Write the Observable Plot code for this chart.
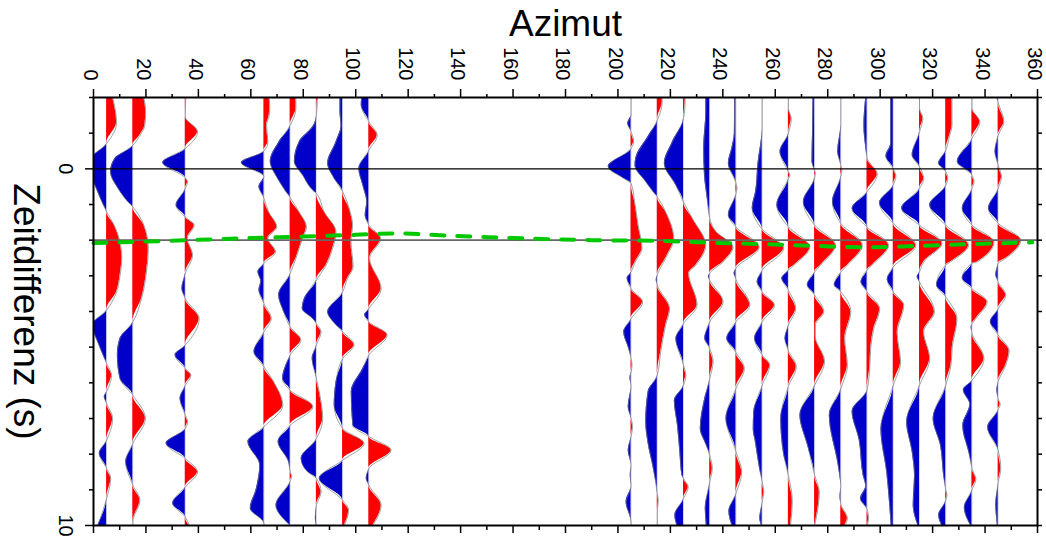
<!DOCTYPE html>
<html>
<head>
<meta charset="utf-8">
<script src="https://cdn.jsdelivr.net/npm/d3@7"></script>
<script src="https://cdn.jsdelivr.net/npm/@observablehq/plot@0.6"></script>
<style>
  html, body { margin: 0; padding: 0; background: #fff; }
  svg { display: block; }
</style>
</head>
<body>
<div id="chart"></div>
<script>
// ---- Data: azimuth of each trace and its wiggle [time (s), amplitude] samples ----
const traceAzimuths = [5, 15, 35, 65, 75, 85, 95, 105, 205, 215, 225, 235, 245, 255, 265, 275, 285, 295, 305, 315, 325, 335, 345];

const tr005 = [[-2,2.3],[-1.3,3.8],[-0.71,0],[-0.3,-5.5],[0.1,-5.8],[0.64,-3.4],[1.0,-1.3],[1.21,0],[1.58,2.9],[2.5,5.8],[3.0,5.1],[3.45,3.8],[3.96,0],[4.38,-5.5],[4.85,-3.4],[5.3,-0.9],[5.46,0],[5.79,1.9],[6.25,0],[6.39,-0.9],[6.58,0],[7.0,2.3],[7.61,0],[7.98,-2.8],[8.4,0],[8.68,1.6],[9.24,0],[10,-3.4]];
const tr015 = [[-2,4.2],[-1.6,4.9],[-1.22,4.6],[-0.94,2.7],[-0.66,0],[-0.29,-6.8],[0.08,-8.5],[0.55,-5.6],[0.93,-1.8],[1.07,0],[1.58,4.2],[2.23,5.9],[2.89,5.2],[3.64,3.3],[4.29,0],[4.76,-4.9],[5.22,-5.9],[5.88,-4.9],[6.35,0],[7.0,4.8],[7.7,0],[8.21,-2.7],[8.87,0],[9.29,2.7],[9.9,0],[10,0]];
const tr035 = [[-2,0.2],[-1.46,0],[-1.04,4.7],[-0.57,0],[-0.17,-8.6],[0.25,0],[0.36,0.9],[0.55,0],[1.02,-3.5],[1.35,0],[1.58,3.4],[1.95,0.8],[2.42,2.8],[2.93,0],[3.36,-1.3],[3.64,0],[4.2,5.3],[4.94,0],[5.22,-3.9],[5.6,0],[5.79,2.2],[6.07,0],[6.44,-2.0],[6.91,0],[7.09,0.9],[7.28,0],[7.7,-7.3],[8.12,0],[8.5,4.7],[8.92,0],[9.38,-4.8],[9.76,0],[10,1.5]];
const tr065 = [[-2,2.0],[-1.75,2.2],[-1.5,2.0],[-1.22,1.0],[-0.76,1.5],[-0.5,0],[-0.17,-8.6],[0.22,0],[0.5,-1.9],[0.83,0],[1.21,1.8],[1.63,4.9],[1.95,1.5],[2.33,4.4],[2.65,0],[2.89,-2.3],[3.15,-1.2],[3.4,-1.9],[3.78,0],[4.2,2.8],[4.57,0],[5.13,-3.8],[5.55,0],[5.97,3.7],[6.63,7.2],[7.23,0],[7.65,-6.1],[8.31,-1.6],[9.0,-3.0],[9.52,-5.2],[9.94,0],[10,0]];
const tr075 = [[-2,2.2],[-1.69,2.2],[-1.22,0],[-0.76,-4.2],[-0.21,-7.6],[0.27,-4.8],[0.64,-1.6],[0.81,0],[1.21,3.4],[1.63,6.2],[1.95,4.7],[2.51,2.2],[2.93,0],[3.54,-4.4],[4.0,-2.5],[4.43,0],[4.8,4.1],[5.22,0],[5.5,-1.6],[5.88,-2.9],[6.21,0],[6.67,8.7],[7.19,0],[7.65,-4.6],[8.21,-0.6],[8.5,0],[8.62,0.6],[8.75,0],[9.43,-5.4],[10,0]];
const tr085 = [[-2,0.4],[-1.5,0],[-1.22,-1.0],[-0.76,-6.5],[-0.21,-8.4],[0.18,-5.2],[0.64,-0.8],[0.69,0],[1.21,3.0],[1.77,7.5],[2.23,6.2],[2.7,3.7],[3.12,0],[3.64,-4.6],[3.92,-5.4],[4.2,-1.4],[4.34,0],[4.57,1.8],[4.94,0],[5.32,-1.6],[5.88,0],[6.25,1.1],[7.0,2.4],[7.56,0],[8.12,-5.8],[8.5,-3.3],[8.68,0],[9.06,1.8],[9.43,0],[9.8,-0.4],[10,0]];
const tr095 = [[-2,-1.0],[-1.6,-1.0],[-1.2,-0.6],[-0.76,-2.5],[-0.15,-5.7],[0.27,-3.2],[0.64,0],[1.11,2.5],[1.58,3.8],[2.05,3.2],[2.75,4.0],[3.07,1.9],[3.45,0],[4.01,-5.7],[4.38,-2.5],[4.57,0],[4.94,4.4],[5.32,0],[5.97,-2.5],[6.63,-3.2],[7.28,0],[7.7,8.2],[8.17,0],[8.68,-8.9],[9.29,0],[9.57,2.3],[10,0.6]];
const tr105 = [[-2,-2.7],[-1.79,-2.9],[-1.32,0],[-0.94,3.2],[-0.52,0],[-0.01,-3.8],[0.46,-2.3],[0.93,-0.8],[1.3,-1.4],[1.58,0],[1.95,4.5],[2.51,0.3],[3.36,4.7],[3.92,0],[4.1,-1.6],[4.29,0],[4.66,7.0],[5.22,0],[5.6,-2.3],[6.25,-6.7],[7.19,-6.1],[7.51,0],[7.89,8.5],[8.4,0],[8.68,-1.0],[8.87,0],[9.43,4.7],[10,1.5]];
const tr205 = [[-2,0],[-1.5,0],[-1.27,-1.3],[-1.04,0],[-0.76,1.0],[-0.57,0],[-0.06,-8.7],[0.27,-2.8],[0.41,0],[0.93,1.4],[1.58,2.7],[2.23,4.2],[2.61,1.6],[2.89,0],[3.07,-1.5],[3.36,0],[3.73,4.4],[4.2,0],[4.57,-2.8],[5.04,-0.9],[5.32,0],[5.5,0.4],[5.7,0],[5.85,-0.4],[6.1,0],[6.67,-1.1],[7.0,0],[7.23,0.6],[7.5,0],[7.89,-1.1],[8.3,0],[8.59,-0.3],[8.9,0],[9.34,-1.9],[9.9,0],[10,0]];
const tr215 = [[-2,1.8],[-1.88,1.9],[-1.36,0],[-0.94,-3.2],[-0.3,-8.2],[-0.1,-8.5],[0.36,-4.4],[0.64,-1.6],[0.79,0],[1.21,3.2],[1.95,6.3],[2.51,3.2],[2.98,0],[3.12,-0.4],[3.26,0],[3.92,4.7],[4.38,3.2],[5.13,1.3],[5.79,0],[6.25,-3.5],[7.1,-4.4],[7.65,-3.6],[8.4,-1.5],[9.1,0],[9.3,0.4],[9.6,0],[10,0]];
const tr225 = [[-2,0.6],[-1.88,0.6],[-1.41,0],[-0.76,-4.2],[-0.15,-7.3],[0.46,-2.9],[0.93,0],[1.39,3.4],[2.14,8.5],[2.7,4.7],[2.93,2.0],[3.82,5.2],[4.34,0],[4.76,-2.9],[5.5,0],[5.79,0.9],[6.07,0],[6.5,-3.5],[7.19,-2.3],[7.93,-1.4],[8.59,-0.6],[8.68,0],[8.92,1.8],[9.24,0],[9.71,-3.3],[10,-2.5]];
const tr235 = [[-2,-1.5],[-1.6,-1.5],[-0.57,-2.3],[0.18,-2.0],[0.8,-1.0],[1.39,0],[1.77,2.5],[2.19,8.9],[2.61,5.1],[2.93,0],[3.03,-0.5],[3.12,0],[3.73,5.1],[4.29,0],[4.76,-1.9],[5.04,0],[5.41,1.3],[5.88,0],[6.44,-1.9],[7.28,-3.6],[7.75,-1.3],[8.03,0],[8.4,1.0],[8.78,0],[9.52,-1.7],[10,-1.3]];
const tr245 = [[-2,-0.5],[-1.0,-0.6],[-0.6,-1.5],[-0.15,-2.9],[0.4,0],[0.55,0.4],[0.7,0],[1.3,-2.9],[1.63,0],[2.2,8.9],[2.79,0],[2.93,-0.7],[3.1,0],[3.82,5.3],[4.29,0],[4.76,-3.5],[5.15,0],[5.6,3.2],[6.16,0],[7.0,-3.8],[7.93,0],[8.5,2.2],[9.1,0],[9.6,-2.7],[10,-1.5]];
const tr255 = [[-2,0],[-1.13,0],[-0.15,-1.6],[0.64,-2.5],[1.1,-3.8],[1.69,0],[2.23,8.2],[2.84,0],[3.17,-1.9],[3.45,0],[3.82,4.7],[4.29,0],[4.76,-2.9],[5.22,0],[5.5,2.9],[6.07,0],[6.81,-3.2],[7.3,-3.4],[7.65,-2.6],[8.4,-1.0],[8.78,0],[9.06,0.6],[9.34,0],[9.8,-0.9],[10,-0.3]];
const tr265 = [[-2,0],[-1.7,0],[-1.41,1.1],[-1.0,0],[-0.48,-3.2],[0.08,0],[0.18,0.6],[0.28,0],[1.02,-4.4],[1.63,0],[2.19,8.2],[2.7,2.2],[2.84,0],[3.07,-2.5],[3.4,0],[3.92,2.8],[4.38,0],[4.76,-1.3],[5.1,0],[5.55,3.0],[6.1,0],[7.0,-2.9],[8.0,-1.8],[8.6,0],[9.3,1.5],[10,0.8]];
const tr275 = [[-2,-0.6],[-1.0,-0.8],[-0.2,-1.0],[0.05,0],[0.12,0.3],[0.25,0],[0.93,-4.3],[1.58,0],[2.14,8.0],[2.7,2.3],[2.89,0],[3.26,-2.8],[3.54,0],[4.01,3.5],[4.38,0.3],[4.7,0.3],[5.4,3.8],[6.07,0],[6.9,-5.6],[7.8,-2.5],[8.59,0],[9.06,1.8],[9.9,0.3],[10,0]];
const tr285 = [[-2,0],[-1.22,0],[-0.48,-1.2],[-0.1,0],[0.05,0.4],[0.2,0],[0.93,-3.2],[1.53,0],[2.14,8.2],[2.7,2.5],[2.89,0],[3.26,-2.5],[3.45,0],[4.01,3.8],[4.76,1.5],[5.5,2.5],[6.16,0],[6.9,-4.4],[8.31,-1.0],[8.9,0],[9.2,-0.3],[9.4,0],[9.8,2.5],[10,1.5]];
const tr295 = [[-2,-0.5],[-1.2,-1.2],[-0.6,-0.5],[-0.3,0],[0.15,3.9],[0.64,0],[1.11,-5.7],[1.63,0],[2.14,8.2],[2.7,1.9],[2.84,0],[3.17,-2.3],[3.45,0],[3.92,4.8],[4.5,2.5],[4.94,1.5],[5.6,1.0],[6.2,0],[6.8,-5.7],[7.6,-3.0],[8.59,-1.5],[8.9,-0.5],[9.25,-2.5],[9.55,0],[9.8,0.6],[10,0]];
const tr305 = [[-2,-1.0],[-0.7,-1.0],[-0.35,-2.8],[0,0],[0.2,1.0],[0.45,0],[0.96,-5.3],[1.53,0],[2.15,8.6],[2.75,0],[3.1,-2.3],[3.45,0],[3.82,4.0],[4.6,1.5],[5.41,2.8],[6.07,0],[7.3,-4.7],[8.5,-2.5],[9.3,-1.5],[10,-0.8]];
const tr315 = [[-2,0],[-1.7,0],[-1.41,1.3],[-1.04,0],[-0.38,-2.8],[-0.06,0],[0.27,1.6],[0.55,0],[1.11,-6.8],[1.58,0],[2.09,8.6],[2.61,1.6],[2.89,0],[3.03,-0.9],[3.17,0],[4.01,5.7],[4.57,1.6],[5.32,3.9],[6.07,0],[7.1,-4.9],[7.93,-2.8],[8.59,-1.9],[9.43,-2.4],[10,-0.6]];
const tr325 = [[-2,2.4],[-1.22,2.4],[-0.94,1.5],[-0.52,0],[-0.15,-2.7],[0.08,0],[0.27,0.8],[0.46,0],[1.02,-6.1],[1.58,0],[2.14,8.7],[2.61,1.8],[2.7,0],[3.26,-3.5],[3.59,0],[4.2,4.3],[5.0,2.5],[5.5,2.0],[6.07,0],[7.0,-4.8],[7.75,-2.0],[8.59,-0.8],[9.0,0],[9.15,0.5],[9.3,0],[9.71,-2.7],[10,-1.5]];
const tr335 = [[-2,0],[-1.7,0],[-1.32,3.0],[-0.85,0],[-0.2,-5.6],[0.18,0],[0.36,0.8],[0.55,0],[1.11,-3.7],[1.58,0],[2.05,8.4],[2.61,2.0],[2.65,0],[3.07,-3.7],[3.36,0],[3.73,5.8],[4.2,1.5],[4.35,0],[4.45,-0.3],[4.6,0],[5.32,4.6],[5.93,0],[6.2,-3.3],[6.6,-0.8],[7.2,-3.5],[8.0,-1.0],[8.4,0],[8.7,1.5],[9.0,0],[9.5,-2.9],[10,-0.5]];
const tr345 = [[-2,-0.5],[-1.85,0],[-1.32,2.2],[-0.94,0],[-0.48,-1.2],[-0.1,0],[0.22,1.3],[0.55,0],[1.11,-3.7],[1.53,0],[2.0,8.6],[2.51,2.9],[2.65,0],[2.98,-0.9],[3.17,0],[3.54,2.9],[3.92,0],[4.29,-3.0],[4.66,0],[5.1,4.2],[5.5,2.9],[5.97,0],[6.2,-0.5],[6.45,0],[6.6,0.8],[6.75,0],[7.25,-4.0],[7.9,0],[8.4,1.0],[8.8,0],[9.4,-0.9],[10,-0.3]];

const traceSamples = [tr005, tr015, tr035, tr065, tr075, tr085, tr095, tr105, tr205, tr215, tr225, tr235, tr245, tr255, tr265, tr275, tr285, tr295, tr305, tr315, tr325, tr335, tr345];

// picked arrival (green dashed curve)
const pickAzimuths = [0, 20, 40, 60, 80, 100, 115, 135, 160, 190, 215, 235, 255, 275, 295, 315, 335, 358];
const pickTimes    = [2.08, 2.04, 1.99, 1.94, 1.90, 1.85, 1.81, 1.87, 1.94, 2.0, 2.02, 2.07, 2.11, 2.16, 2.2, 2.16, 2.11, 2.06];

// reference lines and tick values
const refLineZero = [0];
const refLineTwo = [2];
const xMajorTicks = [0, 20, 40, 60, 80, 100, 120, 140, 160, 180, 200, 220, 240, 260, 280, 300, 320, 340, 360];
const xMinorTicks = [10, 30, 50, 70, 90, 110, 130, 150, 170, 190, 210, 230, 250, 270, 290, 310, 330, 350];
const yLabelTicks = [0, 10];
const yMinorTicks = [-2, -1, 1, 2, 3, 4, 5, 6, 7, 8, 9];
const yAllTicks = [-2, -1, 0, 1, 2, 3, 4, 5, 6, 7, 8, 9, 10];

// ---- Build tables ----
const gain = 1;
const rows = traceAzimuths.flatMap((az, i) => traceSamples[i].map(([t, a]) => ({az, t, a})));
const pick = pickAzimuths.map((az, i) => ({az, t: pickTimes[i]}));

const RED = "#ff0000";
const BLUE = "#0000c8";

const chart = Plot.plot({
  width: 1046,
  height: 537,
  marginTop: 97,
  marginBottom: 12,
  marginLeft: 93,
  marginRight: 9,
  style: {fontFamily: "'Liberation Sans', Arial, sans-serif", background: "#fff", color: "#000"},
  x: {domain: [0, 360]},
  y: {domain: [-2, 10], reverse: true},
  marks: [
    Plot.ruleX(traceAzimuths, {stroke: "#d6d2ee", strokeWidth: 1}),
    Plot.areaX(rows, {y: "t", x1: "az", x2: d => d.az + gain * Math.max(0, d.a), z: "az", fill: RED, curve: "monotone-y", clip: true}),
    Plot.areaX(rows, {y: "t", x1: "az", x2: d => d.az + gain * Math.min(0, d.a), z: "az", fill: BLUE, curve: "monotone-y", clip: true}),
    Plot.lineX(rows, {x: d => d.az + gain * d.a, y: "t", z: "az", stroke: "#7a7a7a", strokeWidth: 0.7, curve: "monotone-y", clip: true}),
    Plot.ruleY(refLineZero, {stroke: "#000", strokeWidth: 1.2}),
    Plot.ruleY(refLineTwo, {stroke: "#666", strokeWidth: 1.8}),
    Plot.line(pick, {x: "az", y: "t", stroke: "#00c800", strokeWidth: 4, strokeDasharray: "13,13", curve: "monotone-x"}),
    Plot.frame({stroke: "#000", strokeWidth: 2}),
    Plot.axisX(xMajorTicks, {anchor: "top", tickSize: 9, tickFormat: () => "", label: null, strokeWidth: 1.5}),
    Plot.axisX(xMajorTicks, {anchor: "top", tickSize: 0, tickRotate: 90, tickPadding: 17, dx: -3, fontSize: 20, label: null}),
    Plot.axisX(xMinorTicks, {anchor: "top", tickSize: 4, tickFormat: () => "", label: null, strokeWidth: 1.5}),
    Plot.axisX(xMajorTicks, {anchor: "bottom", tickSize: 8, tickFormat: () => "", label: null, strokeWidth: 1.5}),
    Plot.axisX(xMinorTicks, {anchor: "bottom", tickSize: 5, tickFormat: () => "", label: null, strokeWidth: 1.5}),
    Plot.axisY(yLabelTicks, {anchor: "left", tickSize: 8, tickRotate: 90, tickPadding: 12, fontSize: 20, label: null, strokeWidth: 1.5}),
    Plot.axisY(yMinorTicks, {anchor: "left", tickSize: 4, tickFormat: () => "", label: null, strokeWidth: 1.5}),
    Plot.axisY(yAllTicks, {anchor: "right", tickSize: 4, tickFormat: () => "", label: null, strokeWidth: 1.5}),
    Plot.text(["Azimut"], {text: d => d, frameAnchor: "top", dy: -62, lineAnchor: "bottom", fontSize: 37}),
    Plot.text(["Zeitdifferenz (s)"], {text: d => d, frameAnchor: "left", dx: -53, rotate: 90, lineAnchor: "top", textAnchor: "middle", fontSize: 37})
  ]
});

document.getElementById("chart").appendChild(chart);
</script>
</body>
</html>
